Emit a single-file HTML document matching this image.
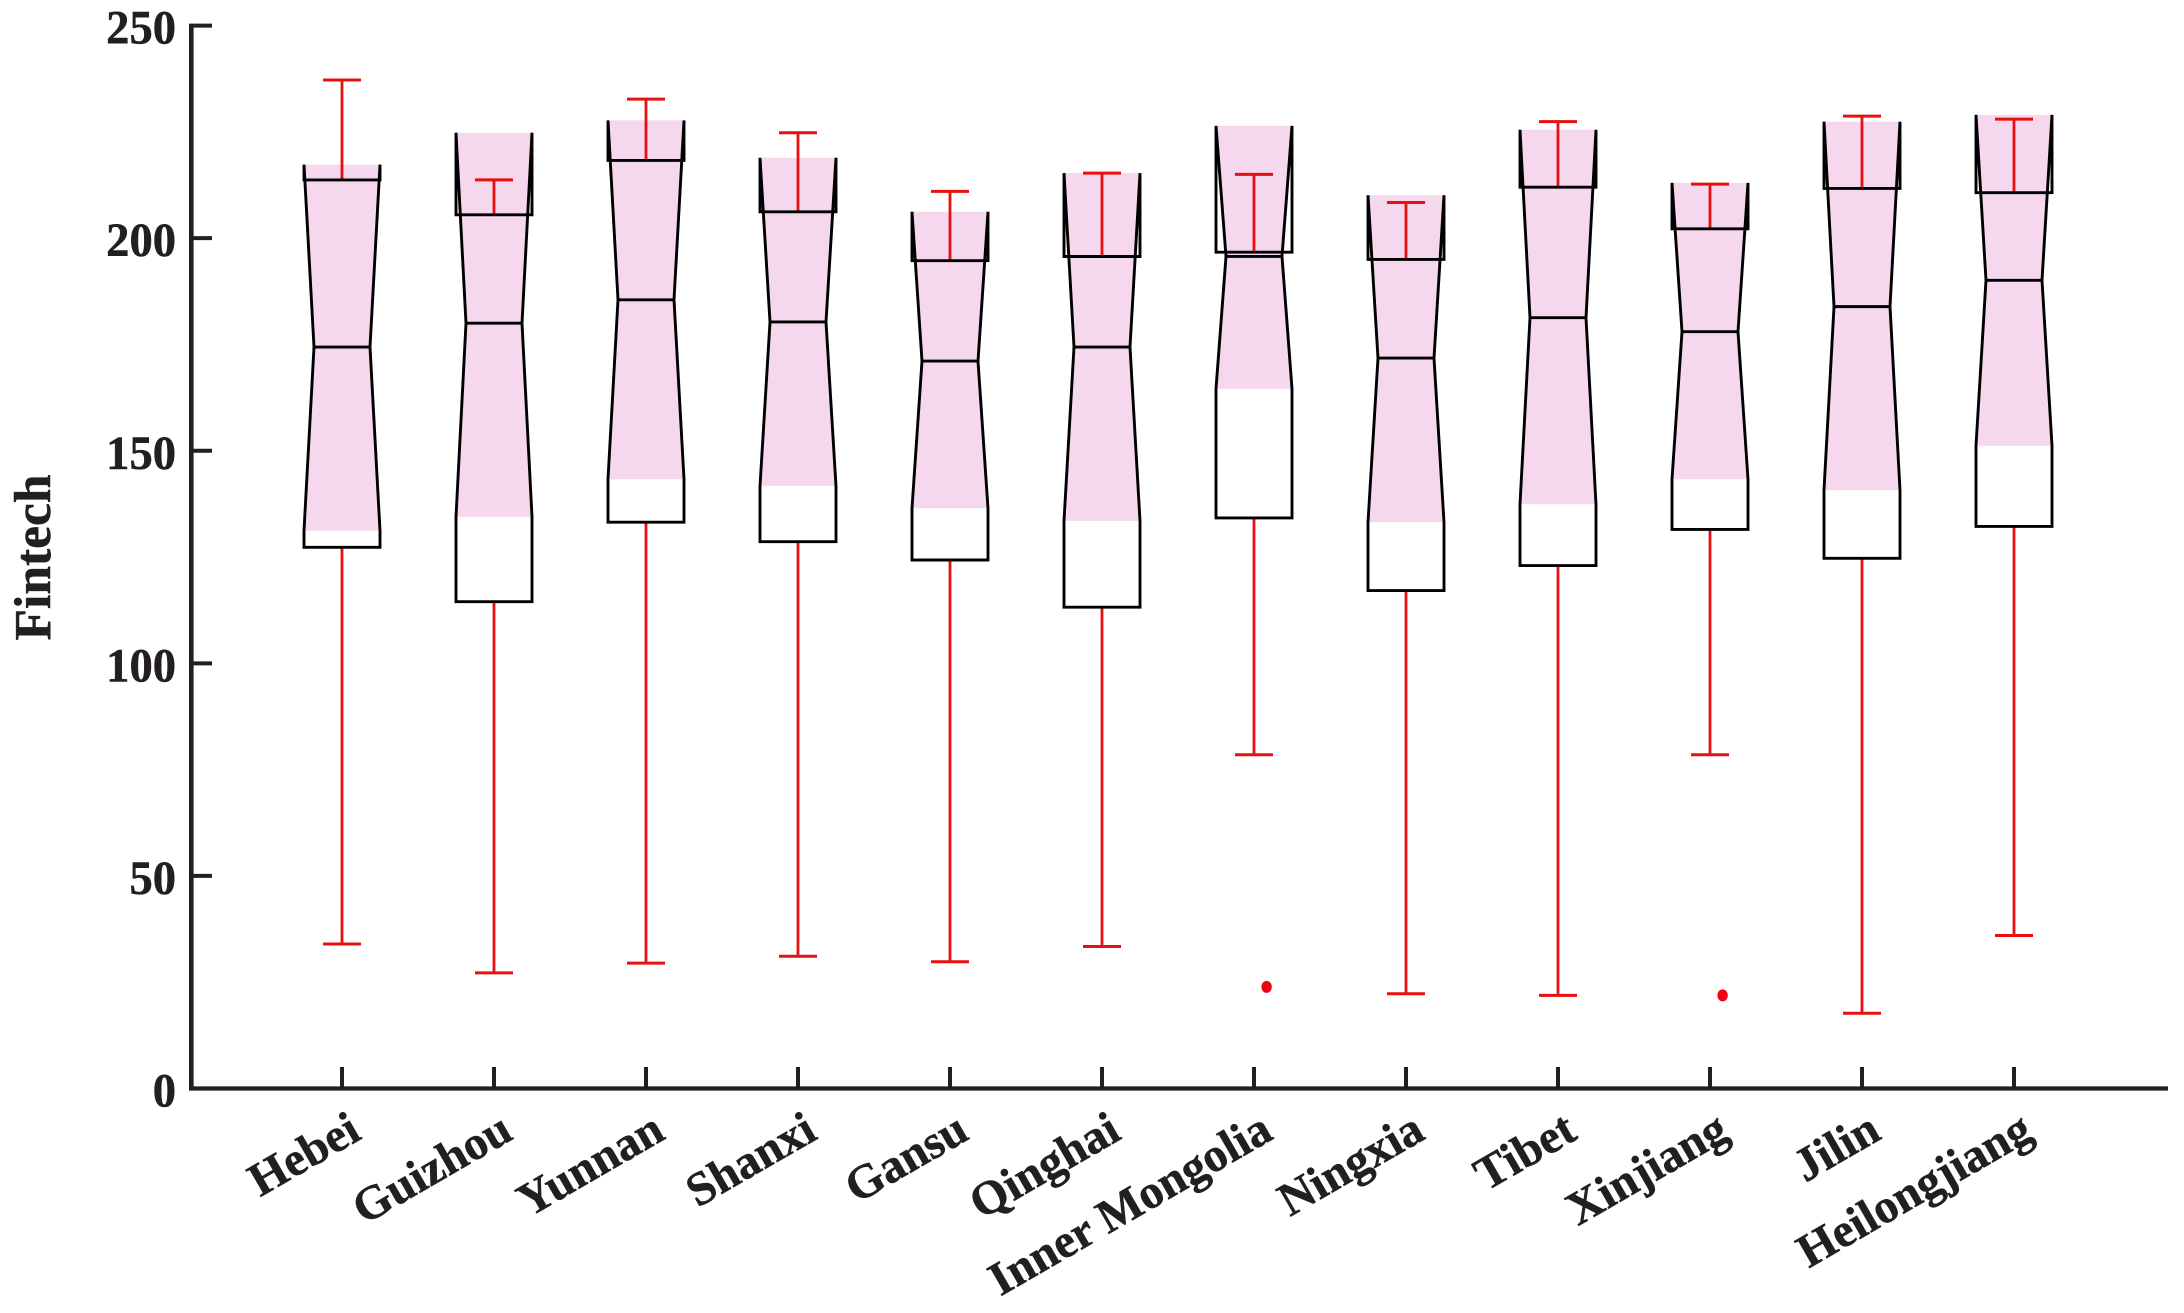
<!DOCTYPE html>
<html lang="en">
<head>
<meta charset="utf-8">
<title>Fintech box plot</title>
<style>
html,body{margin:0;padding:0;background:#fff;width:2184px;height:1313px;overflow:hidden}
svg{display:block}
text{font-family:"Liberation Serif",serif;font-weight:bold;fill:#231f20;stroke:#231f20;stroke-width:0.5px}
</style>
</head>
<body>
<svg id="chart" xmlns="http://www.w3.org/2000/svg" width="2184" height="1313" viewBox="0 0 2184 1313"></svg>
<script>
const categories = ["Hebei","Guizhou","Yunnan","Shanxi","Gansu","Qinghai","Inner Mongolia","Ningxia","Tibet","Xinjiang","Jilin","Heilongjiang"];
const whiskerHigh = [237.2,213.7,232.7,224.8,211,215.3,215,208.4,227.4,212.7,228.7,228];
const notchHigh = [217.3,224.8,227.7,218.9,206.2,215.3,226.4,210.1,225.5,213,227.4,229];
const q3 = [213.7,205.5,218.3,206.2,194.7,195.7,196.7,195,212,202.2,211.7,210.7];
const median = [174.4,180,185.5,180.3,171.1,174.4,195.7,171.8,181.3,178,183.9,190.1];
const notchLow = [131.2,134.5,143.3,141.7,136.5,133.5,164.6,133.2,137.4,143.3,140.7,151.2];
const q1 = [127.3,114.5,133.2,128.6,124.3,113.2,134.2,117.1,123,131.5,124.7,132.2];
const whiskerLow = [34,27.2,29.5,31.1,29.8,33.4,78.5,22.3,21.9,78.5,17.7,36];
const outlierCategories = ["Inner Mongolia","Xinjiang"];
const outlierValues = [23.9,21.9];
const yTicks = [0,50,100,150,200,250];
const yTitle = "Fintech";

const svg = document.getElementById('chart');
const NS = 'http://www.w3.org/2000/svg';
const yAxisX = 191.3, xAxisY = 1088.5, yTopPx = 25.6, xAxisEnd = 2168;
const firstX = 342, stepX = 152;
const boxHalf = 38, waistHalf = 28, capHalf = 19;

function xScale(i){ return firstX + i * stepX; }
function yScale(v){ return xAxisY - (v / 250) * (xAxisY - yTopPx); }
function make(tag, attrs, parent){
  const el = document.createElementNS(NS, tag);
  for (const k in attrs) el.setAttribute(k, attrs[k]);
  (parent || svg).appendChild(el);
  return el;
}
function pts(a){ return a.map(p => p[0].toFixed(1) + ',' + p[1].toFixed(1)).join(' '); }

const AXIS = '#231f20', RED = '#e5100f', PINK = '#f5d7ee', BOX = '#000';

categories.forEach((name, i) => {
  const cx = xScale(i);
  const L = cx - boxHalf, R = cx + boxHalf, mL = cx - waistHalf, mR = cx + waistHalf;
  const yNH = yScale(notchHigh[i]), yNL = yScale(notchLow[i]), yM = yScale(median[i]);
  const yQ3 = yScale(q3[i]), yQ1 = yScale(q1[i]);
  const yWH = yScale(whiskerHigh[i]), yWL = yScale(whiskerLow[i]);

  const g = make('g', {});
  
  

  const fill = make('polygon', {points: pts([[L,yNL],[mL,yM],[L,yNH],[R,yNH],[mR,yM],[R,yNL]]), fill: PINK}, g);
  
  

  const upper = make('line', {x1:cx,x2:cx,y1:yQ3,y2:yWH,stroke:RED,'stroke-width':2.8}, g);
  
  

  const upperCap = make('line', {x1:cx-capHalf,x2:cx+capHalf,y1:yWH,y2:yWH,stroke:RED,'stroke-width':3}, g);
  
  

  const lower = make('line', {x1:cx,x2:cx,y1:yQ1,y2:yWL,stroke:RED,'stroke-width':2.8}, g);
  
  

  const lowerCap = make('line', {x1:cx-capHalf,x2:cx+capHalf,y1:yWL,y2:yWL,stroke:RED,'stroke-width':3}, g);
  
  

  const outline = make('polygon', {points: pts([[L,yQ1],[L,yNL],[mL,yM],[L,yNH],[L,yQ3],[R,yQ3],[R,yNH],[mR,yM],[R,yNL],[R,yQ1]]), fill:'none', stroke:BOX, 'stroke-width':2.9, 'stroke-linejoin':'miter', 'stroke-miterlimit':2}, g);
  
  

  const med = make('line', {x1:mL,x2:mR,y1:yM,y2:yM,stroke:BOX,'stroke-width':2.9}, g);
  
  
});

outlierCategories.forEach((name, k) => {
  const i = categories.indexOf(name);
  const dot = make('ellipse', {cx:xScale(i)+12.6, cy:yScale(outlierValues[k]), rx:5.2, ry:6, fill:'#f00010'});
  
  
});

const yAxis = make('line', {x1:yAxisX,x2:yAxisX,y1:yTopPx-2,y2:xAxisY+2,stroke:AXIS,'stroke-width':4.6});



const xAxis = make('line', {x1:yAxisX-2.3,x2:xAxisEnd,y1:xAxisY,y2:xAxisY,stroke:AXIS,'stroke-width':4.2});



yTicks.forEach(v => {
  const y = yScale(v);
  if (v !== 0) {
    const t = make('line', {x1:yAxisX,x2:212,y1:y,y2:y,stroke:AXIS,'stroke-width':4});
    
    
  }
  const label = make('text', {'text-anchor':'end', 'font-size':47.5, transform:'translate(176 ' + (y + 18) + ') scale(0.98 1)'});
  label.textContent = v;
  
  
});

categories.forEach((name, i) => {
  const x = xScale(i);
  const t = make('line', {x1:x,x2:x,y1:xAxisY,y2:xAxisY-21.5,stroke:AXIS,'stroke-width':4});
  
  
  const ax = x + 21, ay = 1138;
  const label = make('text', {x:ax, y:ay, 'text-anchor':'end', 'font-size':47.5, transform:'rotate(-30 ' + ax + ' ' + ay + ')'});
  label.textContent = name;
  
  
});

const title = make('text', {x:50, y:557.5, 'text-anchor':'middle', 'font-size':51.5, transform:'rotate(-90 50 557.5)'});
title.textContent = yTitle;


</script>
</body>
</html>
